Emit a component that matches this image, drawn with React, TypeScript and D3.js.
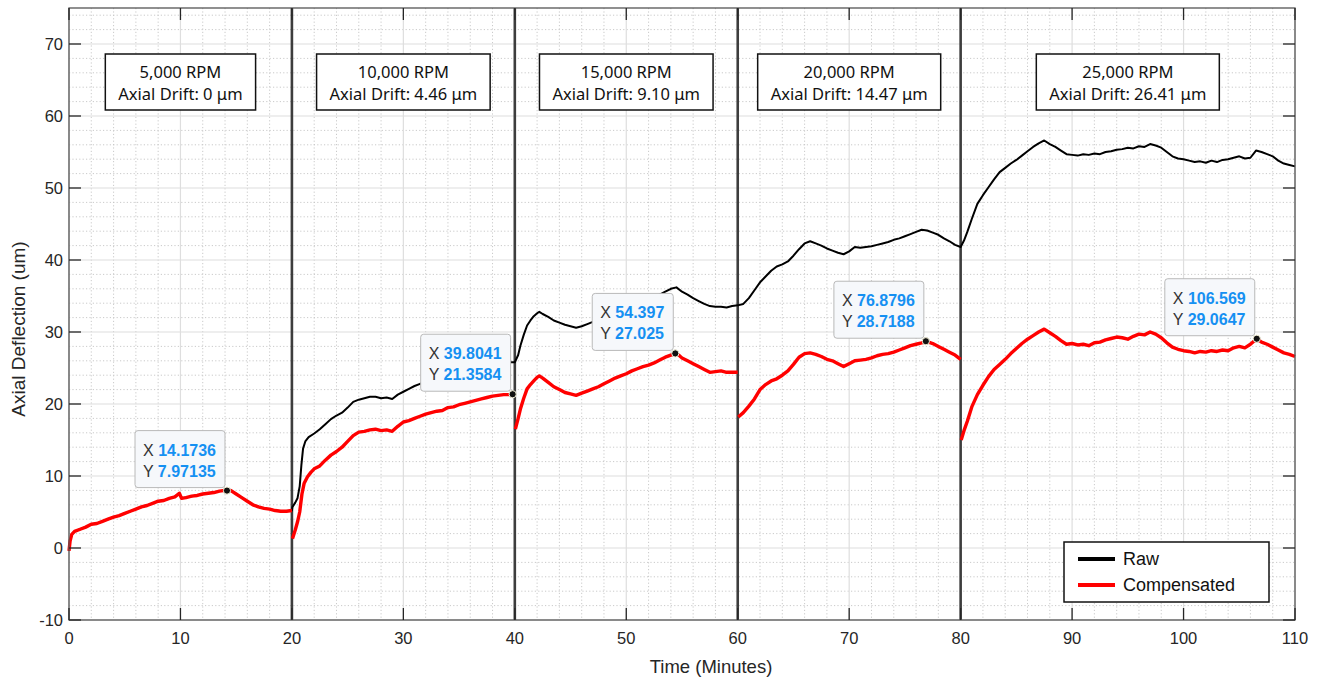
import React, { useMemo } from 'react';
import * as d3 from 'd3';

// ---------------- DATA ----------------
const xTicks = [0, 10, 20, 30, 40, 50, 60, 70, 80, 90, 100, 110];
const yTicks = [-10, 0, 10, 20, 30, 40, 50, 60, 70];
const stageBoundaries = [20, 40, 60, 80];
const stageCenters = [10, 30, 50, 70, 95];
const rpmLabels = ['5,000 RPM', '10,000 RPM', '15,000 RPM', '20,000 RPM', '25,000 RPM'];
const driftLabels = ['Axial Drift: 0 μm', 'Axial Drift: 4.46 μm', 'Axial Drift: 9.10 μm', 'Axial Drift: 14.47 μm', 'Axial Drift: 26.41 μm'];
const datatipX = ['14.1736', '39.8041', '54.397', '76.8796', '106.569'];
const datatipY = ['7.97135', '21.3584', '27.025', '28.7188', '29.0647'];

// Compensated signal, one array per stage [minutes, um]
const comp1: [number, number][] = [
  [0, -0.4], [0.1, 1.0], [0.25, 1.9], [0.5, 2.3], [1, 2.6], [1.5, 2.9], [2, 3.3], [2.5, 3.4], [3, 3.7], [3.5, 4.0],
  [4, 4.3], [4.5, 4.5], [5, 4.8], [5.5, 5.1], [6, 5.4], [6.5, 5.7], [7, 5.9], [7.5, 6.2], [8, 6.5], [8.5, 6.6],
  [9, 6.9], [9.5, 7.1], [9.9, 7.6], [10.1, 6.9], [10.5, 7.0], [11, 7.2], [11.5, 7.3], [12, 7.5], [12.5, 7.6], [13, 7.7],
  [13.5, 7.9], [14, 8.0], [14.1736, 7.97135], [14.5, 8.0], [15, 7.5], [15.5, 7.0], [16, 6.5], [16.5, 6.0], [17, 5.7],
  [17.5, 5.5], [18, 5.4], [18.5, 5.2], [19, 5.1], [19.5, 5.1], [20, 5.2],
];
const comp2: [number, number][] = [
  [20.05, 1.3], [20.3, 2.5], [20.5, 3.6], [20.7, 5.0], [20.9, 7.5], [21.1, 9.0], [21.4, 9.9], [21.7, 10.5], [22, 11.0],
  [22.5, 11.4], [23, 12.2], [23.5, 12.9], [24, 13.4], [24.5, 14.0], [25, 14.8], [25.5, 15.6], [26, 16.1], [26.5, 16.2],
  [27, 16.4], [27.5, 16.5], [28, 16.3], [28.5, 16.4], [29, 16.2], [29.5, 16.9], [30, 17.5], [30.5, 17.7], [31, 18.0],
  [31.5, 18.3], [32, 18.6], [32.5, 18.8], [33, 19.0], [33.5, 19.1], [34, 19.5], [34.5, 19.6], [35, 19.9], [35.5, 20.1],
  [36, 20.3], [36.5, 20.5], [37, 20.7], [37.5, 20.9], [38, 21.1], [38.5, 21.2], [39, 21.3], [39.5, 21.3],
  [39.8041, 21.3584], [40, 21.4],
];
const comp3: [number, number][] = [
  [40.05, 16.5], [40.3, 18.0], [40.5, 19.3], [40.8, 20.8], [41.1, 22.1], [41.4, 22.7], [41.7, 23.2], [42, 23.7],
  [42.2, 23.9], [42.5, 23.6], [43, 23.0], [43.5, 22.4], [44, 22.0], [44.5, 21.6], [45, 21.4], [45.5, 21.2], [46, 21.5],
  [46.5, 21.8], [47, 22.1], [47.5, 22.4], [48, 22.8], [48.5, 23.2], [49, 23.6], [49.5, 23.9], [50, 24.2], [50.5, 24.6],
  [51, 24.9], [51.5, 25.2], [52, 25.4], [52.5, 25.7], [53, 26.1], [53.5, 26.5], [54, 26.8], [54.397, 27.025],
  [54.7, 26.8], [55, 26.4], [55.5, 26.0], [56, 25.6], [56.5, 25.2], [57, 24.8], [57.5, 24.4], [58, 24.5], [58.5, 24.6],
  [59, 24.4], [59.5, 24.4], [60, 24.4],
];
const comp4: [number, number][] = [
  [60.05, 18.2], [60.5, 18.8], [61, 19.7], [61.5, 20.7], [62, 22.0], [62.5, 22.7], [63, 23.2], [63.5, 23.5], [64, 24.0],
  [64.5, 24.6], [65, 25.5], [65.5, 26.5], [66, 27.0], [66.5, 27.1], [67, 26.9], [67.5, 26.6], [68, 26.2], [68.5, 26.0],
  [69, 25.6], [69.5, 25.2], [70, 25.6], [70.5, 26.0], [71, 26.1], [71.5, 26.2], [72, 26.4], [72.5, 26.7], [73, 26.9],
  [73.5, 27.0], [74, 27.2], [74.5, 27.5], [75, 27.8], [75.5, 28.1], [76, 28.3], [76.5, 28.5], [76.8796, 28.7188],
  [77.5, 28.4], [78, 28.0], [78.5, 27.6], [79, 27.2], [79.5, 26.8], [80, 26.2],
];
const comp5: [number, number][] = [
  [80.05, 15.0], [80.3, 16.3], [80.6, 17.6], [81, 19.6], [81.5, 21.3], [82, 22.6], [82.5, 23.8], [83, 24.8], [83.5, 25.5],
  [84, 26.2], [84.5, 27.0], [85, 27.7], [85.5, 28.4], [86, 29.0], [86.5, 29.5], [87, 30.0], [87.5, 30.4], [88, 29.9],
  [88.5, 29.4], [89, 28.8], [89.5, 28.3], [90, 28.4], [90.5, 28.2], [91, 28.3], [91.5, 28.1], [92, 28.5], [92.5, 28.6],
  [93, 28.9], [93.5, 29.1], [94, 29.3], [94.5, 29.2], [95, 29.0], [95.5, 29.4], [96, 29.7], [96.5, 29.6], [97, 30.0],
  [97.5, 29.7], [98, 29.2], [98.5, 28.5], [99, 27.9], [99.5, 27.6], [100, 27.4], [100.5, 27.3], [101, 27.1],
  [101.5, 27.3], [102, 27.2], [102.5, 27.4], [103, 27.3], [103.5, 27.5], [104, 27.4], [104.5, 27.8], [105, 28.0],
  [105.5, 27.8], [106, 28.3], [106.569, 29.0647], [107, 28.6], [107.5, 28.3], [108, 27.9], [108.5, 27.5], [109, 27.1],
  [109.5, 26.9], [110, 26.6],
];

// Raw signal (stage 1 is identical to compensated: drift 0)
const raw2: [number, number][] = [
  [20.05, 5.7], [20.3, 6.3], [20.5, 6.9], [20.7, 8.6], [20.85, 11.5], [21, 13.8], [21.2, 14.8], [21.5, 15.4], [22, 15.9],
  [22.5, 16.5], [23, 17.2], [23.5, 17.9], [24, 18.4], [24.5, 18.8], [25, 19.5], [25.5, 20.3], [26, 20.6], [26.5, 20.8],
  [27, 21.0], [27.5, 21.0], [28, 20.8], [28.5, 20.9], [29, 20.7], [29.5, 21.3], [30, 21.7], [30.5, 22.1], [31, 22.5],
  [31.5, 22.8], [32, 23.0], [32.5, 23.2], [33, 23.4], [33.5, 23.5], [34, 23.7], [34.5, 23.9], [35, 24.1], [35.5, 24.4],
  [36, 24.7], [36.5, 24.9], [37, 25.1], [37.5, 25.4], [38, 25.6], [38.5, 25.7], [39, 25.8], [39.5, 25.8], [40, 25.8],
];
const raw3: [number, number][] = [
  [40.3, 26.8], [40.5, 28.1], [40.8, 29.6], [41.1, 30.9], [41.4, 31.6], [41.7, 32.2], [42, 32.6], [42.2, 32.8],
  [42.5, 32.5], [43, 32.1], [43.5, 31.6], [44, 31.3], [44.5, 31.0], [45, 30.8], [45.5, 30.6], [46, 30.8], [46.5, 31.1],
  [47, 31.4], [47.5, 31.6], [48, 32.0], [48.5, 32.3], [49, 32.7], [49.5, 33.0], [50, 33.3], [50.5, 33.7], [51, 34.1],
  [51.5, 34.3], [52, 34.6], [52.5, 34.8], [53, 35.2], [53.5, 35.6], [54, 36.0], [54.5, 36.2], [55, 35.6], [55.5, 35.2],
  [56, 34.7], [56.5, 34.3], [57, 33.9], [57.5, 33.6], [58, 33.5], [58.5, 33.5], [59, 33.4], [59.5, 33.6], [60, 33.7],
];
const raw4: [number, number][] = [
  [60.5, 33.9], [61, 34.7], [61.5, 35.8], [62, 36.9], [62.5, 37.7], [63, 38.5], [63.5, 39.1], [64, 39.4], [64.5, 39.8],
  [65, 40.6], [65.5, 41.5], [66, 42.3], [66.5, 42.6], [67, 42.3], [67.5, 42.0], [68, 41.6], [68.5, 41.3], [69, 41.0],
  [69.5, 40.8], [70, 41.2], [70.5, 41.8], [71, 41.7], [71.5, 41.8], [72, 41.9], [72.5, 42.1], [73, 42.3], [73.5, 42.5],
  [74, 42.8], [74.5, 43.0], [75, 43.3], [75.5, 43.6], [76, 43.9], [76.5, 44.2], [77, 44.1], [77.5, 43.8], [78, 43.5],
  [78.5, 43.0], [79, 42.6], [79.5, 42.1], [80, 41.8],
];
const raw5: [number, number][] = [
  [80.3, 42.7], [80.6, 43.9], [81, 45.7], [81.5, 47.8], [82, 49.0], [82.5, 50.1], [83, 51.2], [83.5, 52.2], [84, 52.8],
  [84.5, 53.4], [85, 53.9], [85.5, 54.5], [86, 55.1], [86.5, 55.7], [87, 56.2], [87.5, 56.6], [88, 56.1], [88.5, 55.7],
  [89, 55.2], [89.5, 54.7], [90, 54.6], [90.5, 54.5], [91, 54.7], [91.5, 54.6], [92, 54.8], [92.5, 54.7], [93, 55.0],
  [93.5, 55.1], [94, 55.3], [94.5, 55.4], [95, 55.6], [95.5, 55.5], [96, 55.8], [96.5, 55.7], [97, 56.1], [97.5, 55.9],
  [98, 55.6], [98.5, 55.0], [99, 54.4], [99.5, 54.1], [100, 54.0], [100.5, 53.8], [101, 53.6], [101.5, 53.7], [102, 53.5],
  [102.5, 53.8], [103, 53.6], [103.5, 53.9], [104, 54.0], [104.5, 54.2], [105, 54.4], [105.5, 54.1], [106, 54.2],
  [106.5, 55.2], [107, 55.0], [107.5, 54.7], [108, 54.4], [108.5, 53.8], [109, 53.4], [109.5, 53.2], [110, 53.0],
];

const compSegments = [comp1, comp2, comp3, comp4, comp5];
const rawSeries = [...comp1, ...raw2, ...raw3, ...raw4, ...raw5];

// ---------------- LAYOUT ----------------
const W = 1320;
const H = 678;
const PL = 69, PR = 1295, PT = 8, PB = 620;
const AXIS_FONT = "'Liberation Sans', Arial, Helvetica, sans-serif";
const NOTE_FONT = "'Noto Sans', 'Open Sans', sans-serif";
const TIP_BLUE = '#1590f2';

let measureCtx: CanvasRenderingContext2D | null = null;
function textWidth(s: string, font: string) {
  if (!measureCtx) measureCtx = document.createElement('canvas').getContext('2d');
  if (!measureCtx) return s.length * 8;
  measureCtx.font = font;
  return measureCtx.measureText(s).width;
}

export default function App() {
  const x = useMemo(() => d3.scaleLinear().domain([0, 110]).range([PL, PR]), []);
  const y = useMemo(() => d3.scaleLinear().domain([-10, 75]).range([PB, PT]), []);
  const line = d3.line<[number, number]>().x((d) => x(d[0])).y((d) => y(d[1]));

  const xMinor = d3.range(0, 110.001, 2).filter((v) => v % 10 !== 0);
  const yMinor = d3.range(-10, 75.001, 2).filter((v) => v % 10 !== 0);
  const TL = 12;
  const tickColor = '#262626';

  const noteFontSize = 16.5;
  const noteFont = `${noteFontSize}px 'Noto Sans'`;
  const tipFontSize = 16;

  return (
    <svg width={W} height={H} style={{ position: 'absolute', left: 0, top: 0, background: '#fff' }}>
      <rect x={0} y={0} width={W} height={H} fill="#fff" />
      {/* minor grid */}
      <g stroke="#c4c4c4" strokeWidth={0.9} strokeDasharray="1.2 2.2">
        {xMinor.map((v) => (
          <line key={'xm' + v} x1={x(v)} x2={x(v)} y1={PT} y2={PB} />
        ))}
        {yMinor.map((v) => (
          <line key={'ym' + v} x1={PL} x2={PR} y1={y(v)} y2={y(v)} />
        ))}
      </g>
      {/* major grid */}
      <g stroke="#dedede" strokeWidth={1.2}>
        {xTicks.map((v) => (
          <line key={'xg' + v} x1={x(v)} x2={x(v)} y1={PT} y2={PB} />
        ))}
        {yTicks.map((v) => (
          <line key={'yg' + v} x1={PL} x2={PR} y1={y(v)} y2={y(v)} />
        ))}
      </g>
      {/* stage separators */}
      <g stroke="#3d3d3d" strokeWidth={2.6}>
        {stageBoundaries.map((v) => (
          <line key={'sb' + v} x1={x(v)} x2={x(v)} y1={PT} y2={PB} />
        ))}
      </g>
      {/* data */}
      <path d={line(rawSeries) || ''} fill="none" stroke="#000" strokeWidth={2} strokeLinejoin="round" />
      {compSegments.map((seg, i) => (
        <path key={'c' + i} d={line(seg) || ''} fill="none" stroke="#ff0000" strokeWidth={3.4} strokeLinejoin="round" />
      ))}
      {/* axes box and ticks */}
      <rect x={PL} y={PT} width={PR - PL} height={PB - PT} fill="none" stroke="#555" strokeWidth={1.3} />
      <g stroke={tickColor} strokeWidth={1.3}>
        {xTicks.map((v) => (
          <g key={'xt' + v}>
            <line x1={x(v)} x2={x(v)} y1={PB} y2={PB - TL} />
            <line x1={x(v)} x2={x(v)} y1={PT} y2={PT + TL} />
          </g>
        ))}
        {yTicks.map((v) => (
          <g key={'yt' + v}>
            <line x1={PL} x2={PL + TL} y1={y(v)} y2={y(v)} />
            <line x1={PR} x2={PR - TL} y1={y(v)} y2={y(v)} />
          </g>
        ))}
      </g>
      <g fontFamily={AXIS_FONT} fontSize={16.5} fill={tickColor}>
        {xTicks.map((v) => (
          <text key={'xl' + v} x={x(v)} y={PB + 18} textAnchor="middle" dominantBaseline="central">
            {v}
          </text>
        ))}
        {yTicks.map((v) => (
          <text key={'yl' + v} x={PL - 6} y={y(v)} textAnchor="end" dominantBaseline="central">
            {v}
          </text>
        ))}
      </g>
      <text x={711} y={666} textAnchor="middle" dominantBaseline="central" fontFamily={AXIS_FONT} fontSize={18.5} fill={tickColor}>
        Time (Minutes)
      </text>
      <text
        transform={`translate(18,329) rotate(-90)`}
        textAnchor="middle"
        dominantBaseline="central"
        fontFamily={AXIS_FONT}
        fontSize={19}
        fill={tickColor}
      >
        Axial Deflection (um)
      </text>
      {/* stage annotation boxes */}
      {stageCenters.map((c, i) => {
        const w = Math.max(textWidth(rpmLabels[i], noteFont), textWidth(driftLabels[i], noteFont)) + 26;
        const cx = x(c);
        return (
          <g key={'note' + i}>
            <rect x={cx - w / 2} y={54} width={w} height={56} fill="#fff" stroke="#111" strokeWidth={1.5} />
            <text x={cx} y={71} textAnchor="middle" dominantBaseline="central" fontFamily={NOTE_FONT} fontSize={noteFontSize} fill="#111">
              {rpmLabels[i]}
            </text>
            <text x={cx} y={93} textAnchor="middle" dominantBaseline="central" fontFamily={NOTE_FONT} fontSize={noteFontSize} fill="#111">
              {driftLabels[i]}
            </text>
          </g>
        );
      })}
      {/* datatips */}
      {datatipX.map((sx, i) => {
        const px = x(+sx);
        const py = y(+datatipY[i]);
        const regF = `${tipFontSize}px 'Liberation Sans'`;
        const boldF = `bold ${tipFontSize}px 'Liberation Sans'`;
        const lx = textWidth('X ', regF);
        const ly = textWidth('Y ', regF);
        const tw = Math.max(lx + textWidth(sx, boldF), ly + textWidth(datatipY[i], boldF));
        const w = tw + 17;
        const h = 57;
        const bx = px - 2 - w;
        const by = py - 3 - h;
        return (
          <g key={'tip' + i}>
            <rect x={bx} y={by} width={w} height={h} rx={3} fill="#f6f8fb" stroke="#b9b9b9" strokeWidth={1} />
            <text x={bx + 8} y={by + 19} dominantBaseline="central" fontFamily={AXIS_FONT} fontSize={tipFontSize}>
              <tspan fill="#333">X </tspan>
              <tspan fill={TIP_BLUE} fontWeight="bold">{sx}</tspan>
            </text>
            <text x={bx + 8} y={by + 40} dominantBaseline="central" fontFamily={AXIS_FONT} fontSize={tipFontSize}>
              <tspan fill="#333">Y </tspan>
              <tspan fill={TIP_BLUE} fontWeight="bold">{datatipY[i]}</tspan>
            </text>
            <circle cx={px} cy={py} r={3.6} fill="#111" stroke="#f3efd6" strokeWidth={1} />
          </g>
        );
      })}
      {/* legend */}
      <g>
        <rect x={1064} y={542} width={205} height={60} fill="#fff" stroke="#111" strokeWidth={1.5} />
        <line x1={1078} x2={1115} y1={559} y2={559} stroke="#000" strokeWidth={4} />
        <line x1={1078} x2={1115} y1={585} y2={585} stroke="#ff0000" strokeWidth={4} />
        <text x={1123} y={559} dominantBaseline="central" fontFamily={AXIS_FONT} fontSize={18} fill="#111">
          Raw
        </text>
        <text x={1123} y={585} dominantBaseline="central" fontFamily={AXIS_FONT} fontSize={18} fill="#111">
          Compensated
        </text>
      </g>
    </svg>
  );
}
